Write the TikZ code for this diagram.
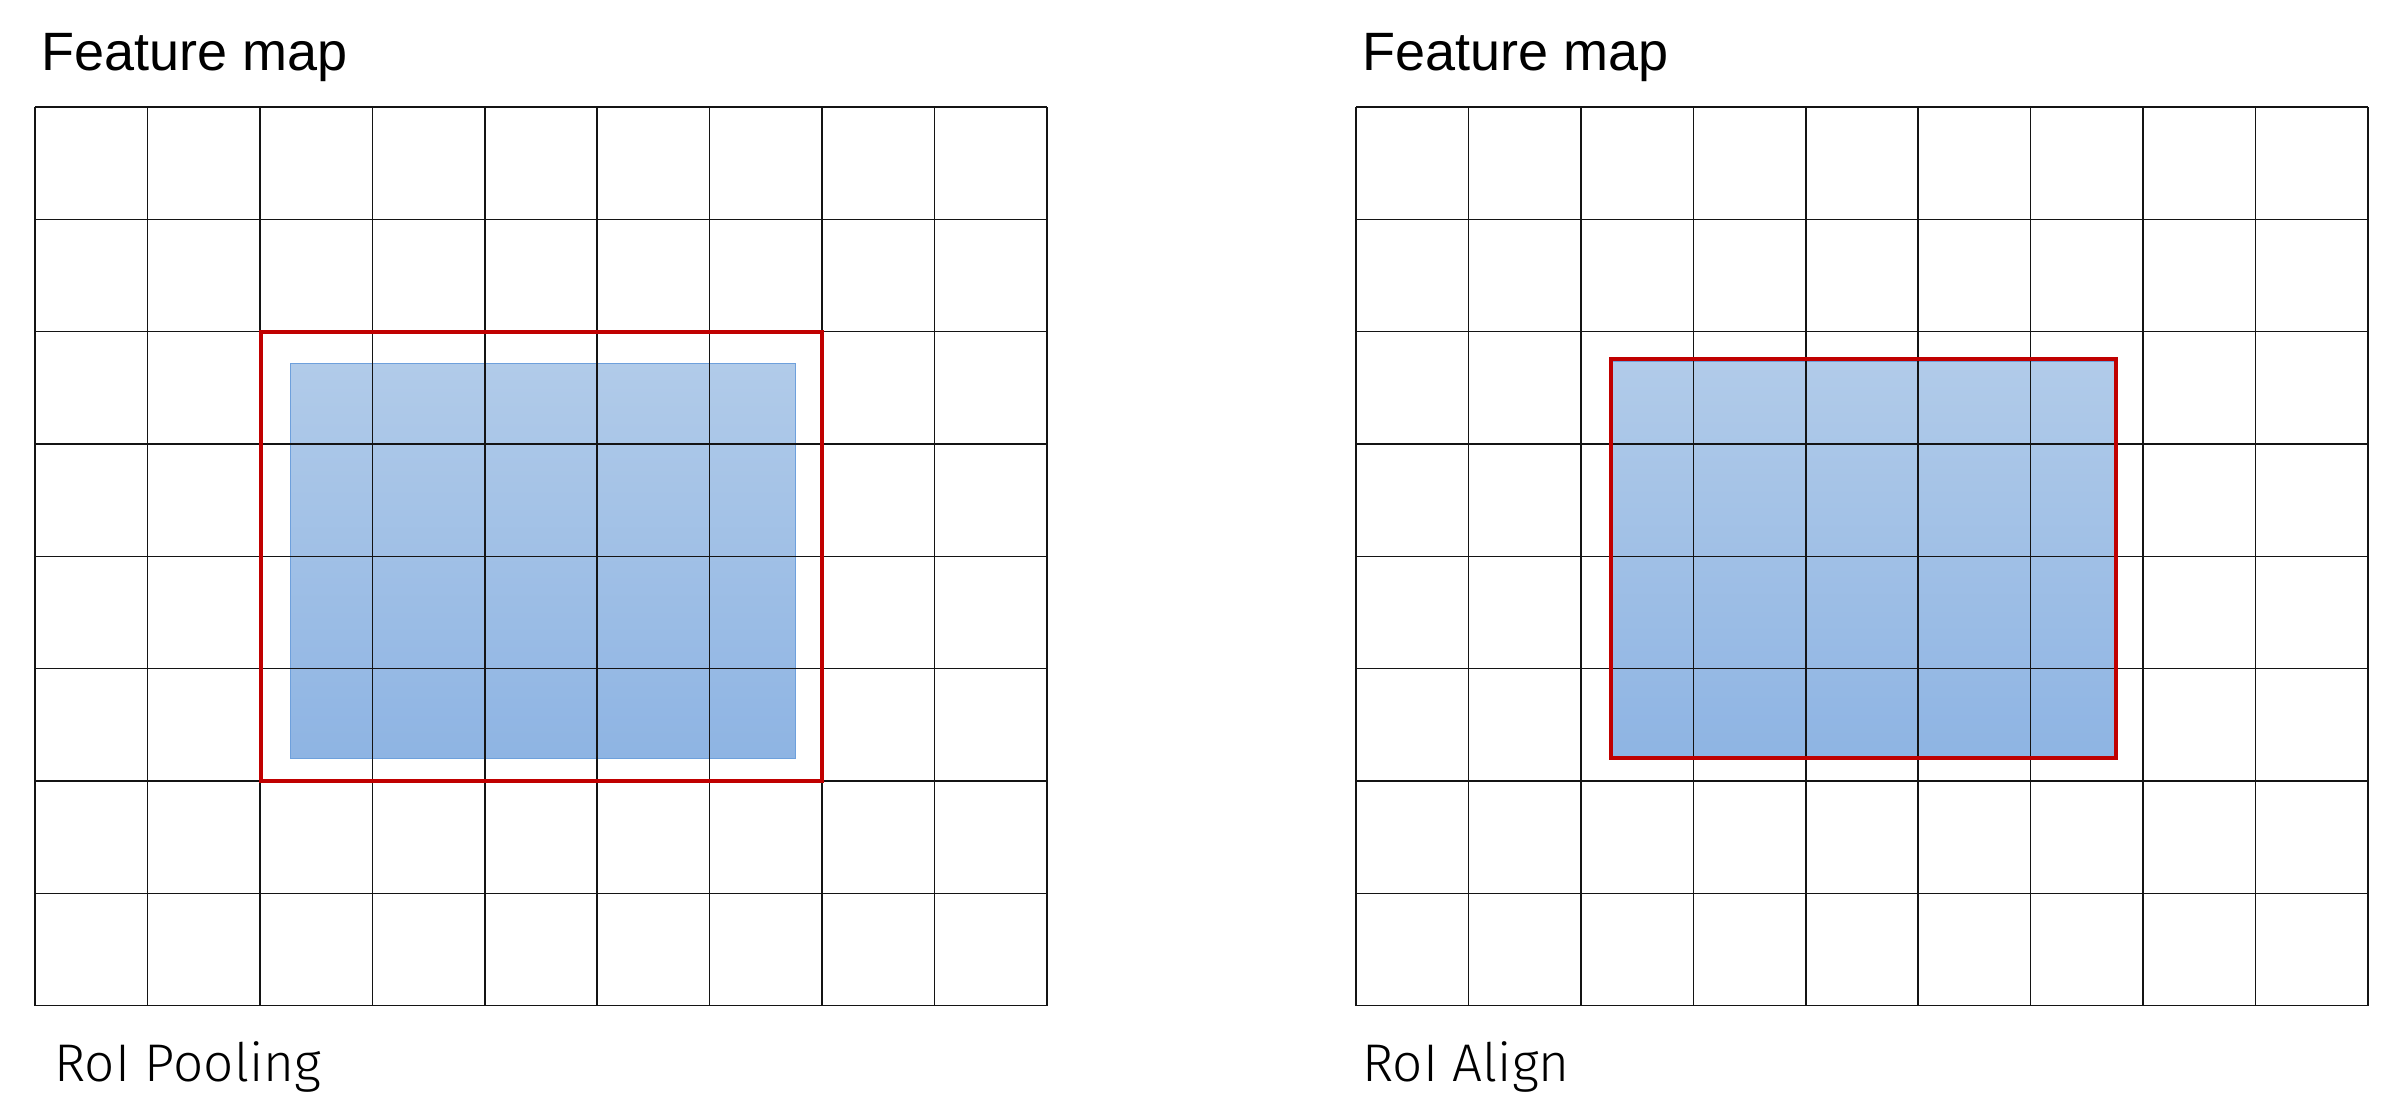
\documentclass[tikz,border=0pt]{standalone}
\usepackage{fontspec}
\setmainfont{Liberation Sans}
\newfontfamily\labelfont{Fira Sans Light}
\definecolor{roired}{HTML}{C00000}
\definecolor{gridline}{HTML}{141414}
\definecolor{bluetop}{RGB}{177,203,233}
\definecolor{bluebot}{RGB}{142,180,227}
\definecolor{blueedge}{RGB}{110,160,220}
\begin{document}
\begin{tikzpicture}[x=0.5pt,y=-0.5pt,
  gridstyle/.style={draw=gridline, line width=0.75pt},
  roibox/.style={draw=roired, line width=2pt},
  bluefill/.style={top color=bluetop, bottom color=bluebot, draw=blueedge, line width=0.5pt},
  titletext/.style={anchor=base west, inner sep=0pt, font=\fontsize{27}{32}\selectfont},
  captext/.style={anchor=base west, inner sep=0pt, font=\labelfont\fontsize{26.5}{32}\selectfont}]
\useasboundingbox[fill=white] (0,0) rectangle (2406,1116);

% blue regions
\fill[bluefill] (290,363) rectangle (795,758.5);
\fill[bluefill] (1611,361) rectangle (2116,758);

% grids
\foreach \gx in {35,1356}{
  \foreach \i in {0,...,9}{
    \draw[gridstyle] ({\gx+\i*112.44},107) -- ({\gx+\i*112.44},1005.6);
  }
  \foreach \j in {0,...,8}{
    \draw[gridstyle] (\gx,{107+\j*112.33}) -- ({\gx+9*112.44},{107+\j*112.33});
  }
}

% red RoI boxes
\draw[roibox] (260.9,331.7) rectangle (822.1,781);
\draw[roibox] (1611,359) rectangle (2116,758);

% texts
\node[titletext] (title1) at (41,70.7) {Feature map};
\node[titletext] (title2) at (1362,70.7) {Feature map};
\node[captext] (cap1) at (54,1081) {RoI Pooling};
\node[captext] (cap2) at (1362,1081) {RoI Align};
\end{tikzpicture}
\end{document}
